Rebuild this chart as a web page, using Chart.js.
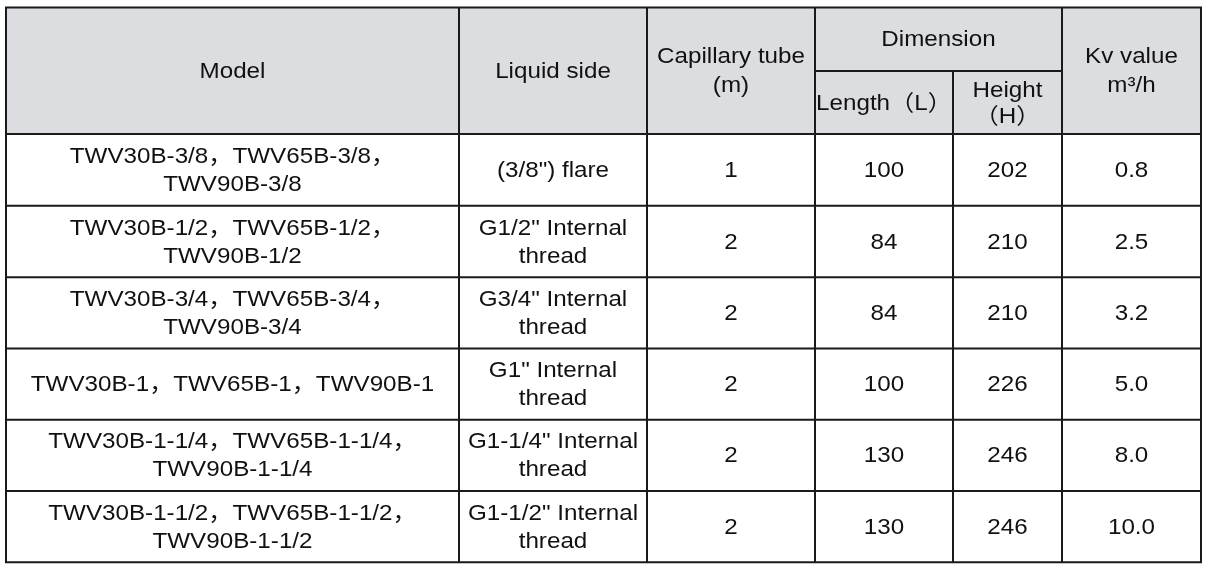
<!DOCTYPE html>
<html>
<head>
<meta charset="utf-8">
<script src="https://cdn.jsdelivr.net/npm/chart.js@4.4.1/dist/chart.umd.min.js"></script>
<style>
    body { margin: 0; background: #ffffff; }
    #contenedor { width: 1209px; height: 570px; position: relative; }
</style>
</head>
<body>
<div id="contenedor"><canvas id="tablaTWV"></canvas></div>
<script>
// Datos de la tabla
const encabezados = ['Model', 'Liquid side', 'Capillary tube\n(m)', 'Kv value\nm³/h'];
const encabezadoDimension = 'Dimension';
const subEncabezados = ['Length（L）', 'Height\n（H）'];

const modelos = [
    'TWV30B-3/8，TWV65B-3/8，\nTWV90B-3/8',
    'TWV30B-1/2，TWV65B-1/2，\nTWV90B-1/2',
    'TWV30B-3/4，TWV65B-3/4，\nTWV90B-3/4',
    'TWV30B-1，TWV65B-1，TWV90B-1',
    'TWV30B-1-1/4，TWV65B-1-1/4，\nTWV90B-1-1/4',
    'TWV30B-1-1/2，TWV65B-1-1/2，\nTWV90B-1-1/2'
];
const ladoLiquido = [
    '(3/8") flare',
    'G1/2" Internal\nthread',
    'G3/4" Internal\nthread',
    'G1" Internal\nthread',
    'G1-1/4" Internal\nthread',
    'G1-1/2" Internal\nthread'
];
const capilar = [1, 2, 2, 2, 2, 2];
const largoL = [100, 84, 84, 100, 130, 130];
const altoH = [202, 210, 210, 226, 246, 246];
const valorKv = [0.8, 2.5, 3.2, 5.0, 8.0, 10.0];

// Layout (en unidades de la escala, 1 unidad = 1 px)
const bordesCol = [6, 459, 647, 815, 953, 1062, 1201];
const bordesFila = [7.5, 134, 205.7, 277.3, 348.5, 419.7, 491, 562.3];
const lineaDimension = 71;

const COLOR_LINEA = '#1a1a1a';
const COLOR_TEXTO = '#111111';
const COLOR_CABECERA = '#dcdde0';
const FUENTE = '22px "Liberation Sans", Arial, "Noto Sans CJK SC", sans-serif';
const ESTIRAR_X = 1.1;

// Dibuja texto centrado (multi-línea) en una celda
function textoCelda(ctx, sx, sy, texto, x0, x1, y0, y1, salto) {
    const lineas = String(texto).split('\n');
    const cx = (sx.getPixelForValue(x0) + sx.getPixelForValue(x1)) / 2;
    const cy = (sy.getPixelForValue(y0) + sy.getPixelForValue(y1)) / 2;
    const inicio = cy - (lineas.length - 1) * salto / 2;
    lineas.forEach((linea, i) => {
        ctx.save();
        ctx.translate(cx, inicio + i * salto);
        ctx.scale(ESTIRAR_X, 1);
        ctx.fillText(linea, 0, 1);
        ctx.restore();
    });
}

function lineaH(ctx, sx, sy, y, xa, xb) {
    ctx.beginPath();
    ctx.moveTo(sx.getPixelForValue(xa) - 1, sy.getPixelForValue(y));
    ctx.lineTo(sx.getPixelForValue(xb) + 1, sy.getPixelForValue(y));
    ctx.stroke();
}

function lineaV(ctx, sx, sy, x, ya, yb) {
    ctx.beginPath();
    ctx.moveTo(sx.getPixelForValue(x), sy.getPixelForValue(ya));
    ctx.lineTo(sx.getPixelForValue(x), sy.getPixelForValue(yb));
    ctx.stroke();
}

const pluginTabla = {
    id: 'pluginTabla',
    beforeDatasetsDraw(chart) {
        const ctx = chart.ctx;
        const sx = chart.scales.x;
        const sy = chart.scales.y;
        const c = bordesCol;
        const f = bordesFila;

        ctx.save();
        // Fondo de la cabecera
        ctx.fillStyle = COLOR_CABECERA;
        ctx.fillRect(sx.getPixelForValue(c[0]), sy.getPixelForValue(f[0]),
            sx.getPixelForValue(c[6]) - sx.getPixelForValue(c[0]),
            sy.getPixelForValue(f[1]) - sy.getPixelForValue(f[0]));

        // Líneas
        ctx.strokeStyle = COLOR_LINEA;
        ctx.lineWidth = 2;
        f.forEach(y => lineaH(ctx, sx, sy, y, c[0], c[6]));
        lineaH(ctx, sx, sy, lineaDimension, c[3], c[5]);
        c.forEach((x, i) => {
            const desde = (i === 4) ? lineaDimension : f[0];
            lineaV(ctx, sx, sy, x, desde, f[f.length - 1]);
        });

        // Textos
        ctx.fillStyle = COLOR_TEXTO;
        ctx.font = FUENTE;
        ctx.textAlign = 'center';
        ctx.textBaseline = 'middle';

        textoCelda(ctx, sx, sy, encabezados[0], c[0], c[1], f[0], f[1], 29);
        textoCelda(ctx, sx, sy, encabezados[1], c[1], c[2], f[0], f[1], 29);
        textoCelda(ctx, sx, sy, encabezados[2], c[2], c[3], f[0], f[1], 29);
        textoCelda(ctx, sx, sy, encabezadoDimension, c[3], c[5], f[0], lineaDimension, 29);
        textoCelda(ctx, sx, sy, subEncabezados[0], c[3], c[4], lineaDimension, f[1], 27);
        textoCelda(ctx, sx, sy, subEncabezados[1], c[4], c[5], lineaDimension, f[1], 26);
        textoCelda(ctx, sx, sy, encabezados[3], c[5], c[6], f[0], f[1], 29);

        modelos.forEach((m, i) => {
            const y0 = f[i + 1], y1 = f[i + 2];
            textoCelda(ctx, sx, sy, m, c[0], c[1], y0, y1, 28);
            textoCelda(ctx, sx, sy, ladoLiquido[i], c[1], c[2], y0, y1, 28);
            textoCelda(ctx, sx, sy, capilar[i], c[2], c[3], y0, y1, 28);
            textoCelda(ctx, sx, sy, largoL[i], c[3], c[4], y0, y1, 28);
            textoCelda(ctx, sx, sy, altoH[i], c[4], c[5], y0, y1, 28);
            textoCelda(ctx, sx, sy, valorKv[i].toFixed(1), c[5], c[6], y0, y1, 28);
        });
        ctx.restore();
    }
};

const ctxTabla = document.getElementById('tablaTWV').getContext('2d');
const tablaTWV = new Chart(ctxTabla, {
    type: 'scatter',
    data: { datasets: [{ data: [] }] },
    options: {
        responsive: true,
        maintainAspectRatio: false,
        animation: false,
        layout: { padding: 0 },
        plugins: { legend: { display: false }, tooltip: { enabled: false } },
        scales: {
            x: { type: 'linear', min: 0, max: 1209, display: false },
            y: { type: 'linear', min: 0, max: 570, reverse: true, display: false }
        }
    },
    plugins: [pluginTabla]
});
</script>
</body>
</html>
